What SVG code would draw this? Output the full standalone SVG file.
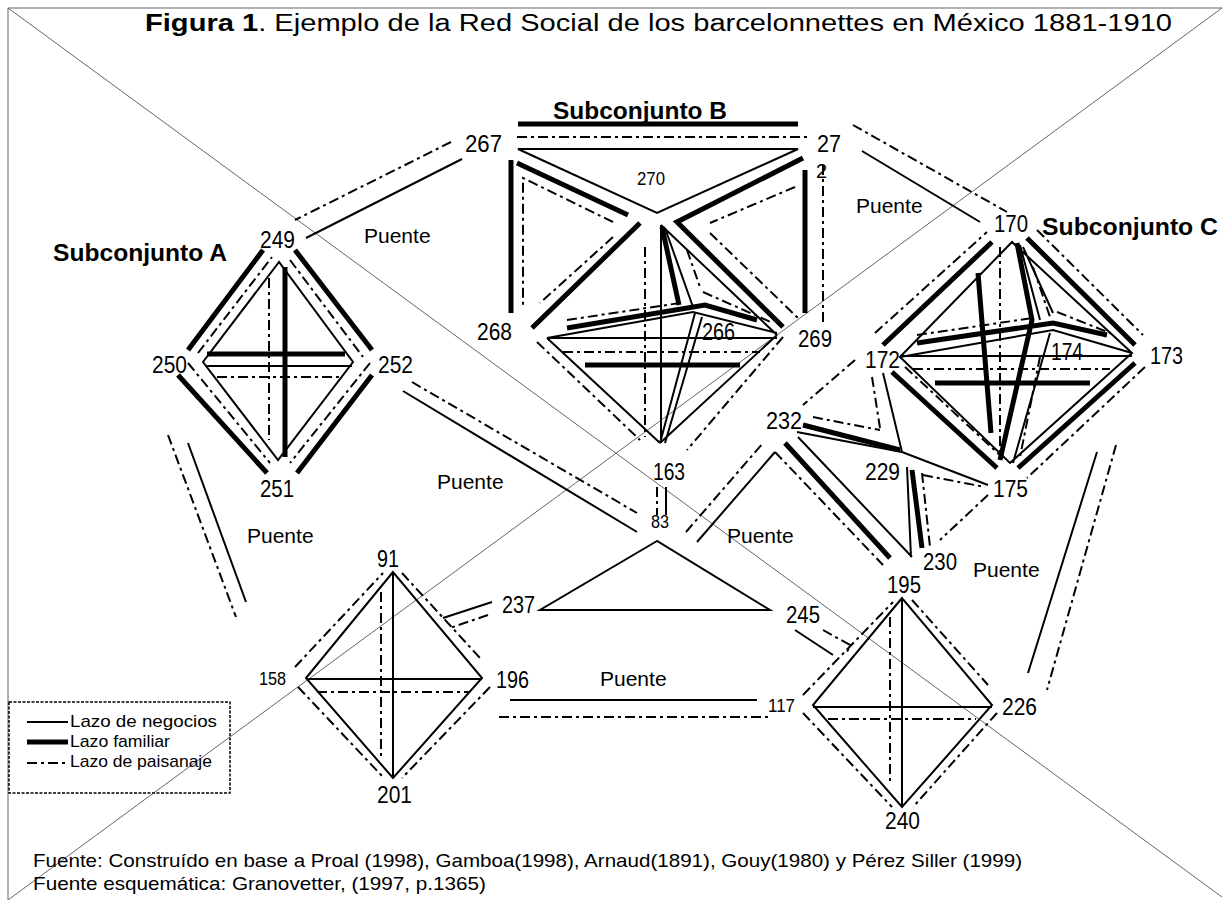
<svg xmlns="http://www.w3.org/2000/svg" width="1222" height="900" viewBox="0 0 1222 900">
<style>
text{font-family:"Liberation Sans",Arial,sans-serif;fill:#000}
.n{font-size:23px}
.s{font-size:18px}
.p{font-size:21px}
.h{font-size:23px;font-weight:bold}
.lg{font-size:17px}
.ft{font-size:19px}
.b{stroke:#000;stroke-width:2;fill:none}
.f{stroke:#000;stroke-width:5;fill:none}
.d{stroke:#000;stroke-width:2;fill:none;stroke-dasharray:10 4 3 4}
.fr{stroke:#666;stroke-width:1;fill:none}
</style>
<rect width="1222" height="900" fill="#fff"/>
<g id="frame">
<path class="fr" d="M8,8 V900 M8,8 H1222 M8,8 L1222,897 M1222,8 L8,900"/>
</g>
<g id="title">
<text x="145" y="31" font-size="23" textLength="1027" lengthAdjust="spacingAndGlyphs"><tspan font-weight="bold">Figura 1</tspan>. Ejemplo de la Red Social de los barcelonnettes en México 1881-1910</text>
</g>
<g id="connectors">
<g id="subset-A">
<path class="b" d="M279,262 L203,362 L278,460 L353,362 Z M205,366 H352"/>
<path class="f" d="M207,354 H345 M285,267 V457 M188,350 L263,250 M295,250 L372,350 M178,375 L267,473 M372,375 L297,473"/>
<path class="d" d="M217,377 H343 M269,278 V440 M198,353 L272,257 M290,260 L363,357 M188,363 L270,463 M370,363 L290,463"/>
</g>
<g id="subset-B">
<path class="b" d="M518,149 H798 L657,213 Z M661,225 L777,335 M547,338 L660,443 M777,335 L660,443 M547,338 H777 M661,225 V443 M665,228 L693,307 M547,338 L693,312 L777,333 M695,313 L660,443 M702,317 L665,443"/>
<path class="f" d="M517,163 L628,215 M803,158 L677,222 L783,327 M640,223 L532,328 M511,160 V313 M805,170 V313 M585,365 H740 M662,227 L679,305 M567,328 L705,305 L757,320"/>
<path class="d" d="M517,137 H807 M613,222 L523,178 V307 M613,237 L540,303 M823,165 V322 M795,187 L710,223 M710,233 L800,320 M537,342 L640,440 M783,337 L687,450 M563,352 H760 M645,247 V437 M687,250 L700,287 M567,320 L680,303 M703,292 L773,323"/>
</g>
<g id="subset-C">
<path class="b" d="M1012,242 L900,357 L1010,463 L1132,353 Z M900,356 H1132 M1020,245 L1040,320 M1023,247 L1053,313 M900,357 L1053,330 L1132,353 M1050,333 L1013,463"/>
<path class="f" d="M883,345 L992,242 M1027,238 L1135,345 M892,372 L997,468 M1135,363 L1018,468 M935,383 H1090 M978,273 L991,433 M1017,243 L1032,320 L1000,460 M917,343 L1053,323 L1107,335"/>
<path class="d" d="M875,333 L987,232 M1037,230 L1143,335 M905,367 L1003,458 M1145,367 L1027,478 M913,369 H1110 M1000,247 V460 M1033,267 L1050,317 M917,335 L1033,318 M1057,312 L1110,333 M1040,357 L1020,457"/>
</g>
<g id="subset-232">
<path class="b" d="M883,373 L902,452 M797,432 L902,452 L988,485 M798,437 L912,557 M907,467 L911,557"/>
<path class="f" d="M803,425 L900,450 M785,443 L890,558 M912,470 L922,548"/>
<path class="d" d="M855,360 L803,405 M872,377 L880,428 M813,417 L880,430 M775,452 L883,565 M922,473 L930,547 M988,495 L940,540 M923,475 L985,487"/>
</g>
<g id="subset-91">
<path class="b" d="M393,572 L306,678 L393,778 L482,678 Z M306,679 H482 M393,572 V778"/>
<path class="d" d="M381,592 V760 M317,692 H470 M295,667 L383,573 M402,573 L480,658 M298,687 L383,777 M490,687 L402,778"/>
</g>
<g id="subset-195">
<path class="b" d="M902,598 L813,705 L902,807 L992,705 Z M813,707 H992"/>
<path class="b" stroke-width="3" d="M902,598 V807"/>
<path class="d" d="M890,617 V785 M828,719 H976 M803,695 L893,602 M912,600 L988,685 M803,713 L892,807 M997,713 L913,807"/>
</g>
<g id="bridges">
<path class="b" d="M462,159 L306,238 M862,151 L980,222 M403,391 L637,532 M697,542 L775,452 M657,541 L540,610 H770 Z M492,602 L443,618 M795,630 L833,655 M510,700 H757 M1097,452 L1028,673 M188,443 L246,602 M666,487 V515"/>
<path class="d" d="M451,142 L295,220 M853,125 L1007,212 M412,382 L637,513 M686,532 L763,443 M488,615 L450,628 M823,630 L850,645 L847,652 M499,717 H770 M1116,445 L1047,690 M168,435 L236,617 M657,487 V515"/>
</g>
</g>
<g id="node-249"><text class="n" x="260" y="248" textLength="35" lengthAdjust="spacingAndGlyphs">249</text></g>
<g id="node-250"><text class="n" x="152" y="373" textLength="35" lengthAdjust="spacingAndGlyphs">250</text></g>
<g id="node-252"><text class="n" x="378" y="373" textLength="35" lengthAdjust="spacingAndGlyphs">252</text></g>
<g id="node-251"><text class="n" x="260" y="497" textLength="34" lengthAdjust="spacingAndGlyphs">251</text></g>
<g id="label-A"><text class="h" x="53" y="261" textLength="174" lengthAdjust="spacingAndGlyphs">Subconjunto A</text></g>
<g id="label-B"><text class="h" x="553" y="119" textLength="174" lengthAdjust="spacingAndGlyphs">Subconjunto B</text><path class="f" d="M518,124 H798"/></g>
<g id="label-C"><text class="h" x="1042" y="235" textLength="176" lengthAdjust="spacingAndGlyphs">Subconjunto C</text></g>
<g id="node-267"><text class="n" x="465" y="152" textLength="37" lengthAdjust="spacingAndGlyphs">267</text></g>
<g id="node-27"><text class="n" x="817" y="152" textLength="24" lengthAdjust="spacingAndGlyphs">27</text></g>
<g id="node-2"><text x="816" y="178" font-size="20">2</text></g>
<g id="node-270"><text class="s" x="637" y="185" textLength="28" lengthAdjust="spacingAndGlyphs">270</text></g>
<g id="node-268"><text class="n" x="477" y="340" textLength="35" lengthAdjust="spacingAndGlyphs">268</text></g>
<g id="node-266"><text class="n" x="702" y="340" textLength="33" lengthAdjust="spacingAndGlyphs">266</text></g>
<g id="node-269"><text class="n" x="798" y="347" textLength="34" lengthAdjust="spacingAndGlyphs">269</text></g>
<g id="node-163"><text class="n" x="653" y="480" textLength="32" lengthAdjust="spacingAndGlyphs">163</text></g>
<g id="node-83"><text class="s" x="651" y="528" font-size="16" textLength="18" lengthAdjust="spacingAndGlyphs">83</text></g>
<g id="node-170"><text class="n" x="994" y="232" textLength="34" lengthAdjust="spacingAndGlyphs">170</text></g>
<g id="node-172"><text class="n" x="865" y="368" textLength="35" lengthAdjust="spacingAndGlyphs">172</text></g>
<g id="node-174"><text class="n" x="1051" y="360" textLength="32" lengthAdjust="spacingAndGlyphs">174</text></g>
<g id="node-173"><text class="n" x="1150" y="364" textLength="33" lengthAdjust="spacingAndGlyphs">173</text></g>
<g id="node-229"><text class="n" x="865" y="480" textLength="35" lengthAdjust="spacingAndGlyphs">229</text></g>
<g id="node-175"><text class="n" x="993" y="497" textLength="35" lengthAdjust="spacingAndGlyphs">175</text></g>
<g id="node-232"><text class="n" x="766" y="429" textLength="36" lengthAdjust="spacingAndGlyphs">232</text></g>
<g id="node-230"><text class="n" x="923" y="570" textLength="34" lengthAdjust="spacingAndGlyphs">230</text></g>
<g id="node-195"><text class="n" x="887" y="593" textLength="34" lengthAdjust="spacingAndGlyphs">195</text></g>
<g id="node-245"><text class="n" x="786" y="623" textLength="34" lengthAdjust="spacingAndGlyphs">245</text></g>
<g id="node-91"><text class="n" x="377" y="567" textLength="22" lengthAdjust="spacingAndGlyphs">91</text></g>
<g id="node-158"><text class="s" x="259" y="685" textLength="27" lengthAdjust="spacingAndGlyphs">158</text></g>
<g id="node-196"><text class="n" x="496" y="688" textLength="33" lengthAdjust="spacingAndGlyphs">196</text></g>
<g id="node-237"><text class="n" x="502" y="613" textLength="33" lengthAdjust="spacingAndGlyphs">237</text></g>
<g id="node-201"><text class="n" x="377" y="803" textLength="35" lengthAdjust="spacingAndGlyphs">201</text></g>
<g id="node-117"><text class="s" x="768" y="712" textLength="27" lengthAdjust="spacingAndGlyphs">117</text></g>
<g id="node-226"><text class="n" x="1002" y="715" textLength="35" lengthAdjust="spacingAndGlyphs">226</text></g>
<g id="node-240"><text class="n" x="885" y="829" textLength="35" lengthAdjust="spacingAndGlyphs">240</text></g>
<g id="puentes">
<text class="p" x="364" y="243">Puente</text>
<text class="p" x="856" y="213">Puente</text>
<text class="p" x="437" y="489">Puente</text>
<text class="p" x="247" y="543">Puente</text>
<text class="p" x="727" y="543">Puente</text>
<text class="p" x="973" y="577">Puente</text>
<text class="p" x="600" y="686">Puente</text>
</g>
<g id="legend">
<rect x="9" y="702" width="221" height="91" fill="none" stroke="#000" stroke-width="1.5" stroke-dasharray="3 1.5"/>
<path class="b" stroke-width="1.5" d="M27,722 H68"/>
<path class="f" d="M27,742 H68"/>
<path class="d" d="M27,763 H68"/>
<text class="lg" x="70" y="727" textLength="147" lengthAdjust="spacingAndGlyphs">Lazo de negocios</text>
<text class="lg" x="70" y="747" textLength="100" lengthAdjust="spacingAndGlyphs">Lazo familiar</text>
<text class="lg" x="70" y="767" textLength="142" lengthAdjust="spacingAndGlyphs">Lazo de paisanaje</text>
</g>
<g id="footer">
<text class="ft" x="33" y="867" textLength="989" lengthAdjust="spacingAndGlyphs">Fuente: Construído en base a Proal (1998), Gamboa(1998), Arnaud(1891), Gouy(1980) y Pérez Siller (1999)</text>
<text class="ft" x="33" y="890" textLength="453" lengthAdjust="spacingAndGlyphs">Fuente esquemática: Granovetter, (1997, p.1365)</text>
</g>
</svg>
